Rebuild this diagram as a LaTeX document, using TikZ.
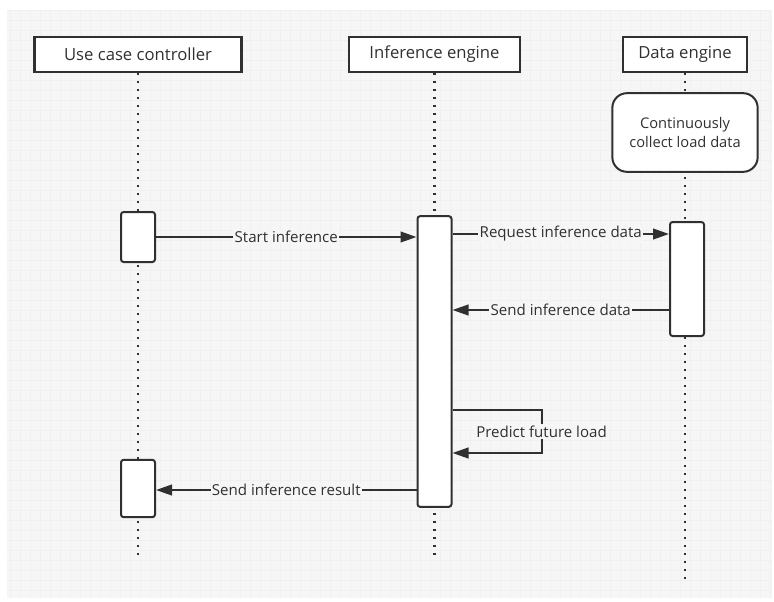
\documentclass[tikz,border=0pt]{standalone}
\usepackage{fontspec}
\setmainfont{Open Sans}
\usepackage{tikz}
\usetikzlibrary{arrows.meta,positioning,calc}
\usepackage{xcolor}
\definecolor{linegray}{HTML}{303030}
\definecolor{paper}{HTML}{F6F6F6}
\definecolor{gridgray}{HTML}{F0F0F0}

\begin{document}
\begin{tikzpicture}[
    x=0.75pt, y=-0.75pt,
    actor/.style={rectangle, draw=linegray, line width=1.8pt, fill=white, minimum height=26pt, font=\fontsize{12.5}{15}\selectfont, text=linegray},
    state/.style={rectangle, rounded corners=11pt, draw=linegray, line width=1.5pt, fill=white, minimum width=109pt, minimum height=59pt, align=center, font=\fontsize{11}{14}\selectfont, text=linegray},
    act/.style={rectangle, rounded corners=2pt, draw=linegray, line width=1.5pt, fill=white, minimum width=25.5pt, inner sep=0pt},
    lifeline/.style={draw=linegray, line width=1.6pt, dash pattern=on 1.6pt off 4.4pt},
    msg/.style={draw=linegray, line width=1.5pt, -{Triangle[length=12pt, width=8pt]}},
    msglabel/.style={fill=paper, inner sep=1pt, font=\fontsize{11.3}{13}\selectfont, text=linegray}
]

% Canvas with grid
\useasboundingbox (0,0) rectangle (774,601);
\fill[paper] (7,10) rectangle (772,598);
\draw[gridgray, line width=0.2pt, step=7.5pt] (7,10) grid (772,598);

% Participants
\node[actor, minimum width=155pt] (ucc) at (138,54.5) {Use case controller};
\node[actor, minimum width=128pt] (ie) at (434.5,54.5) {Inference engine};
\node[actor, minimum width=93pt] (de) at (685,54.5) {Data engine};

% Lifeline ends
\coordinate (uccend) at (138,560);
\coordinate (ieend) at (434.5,560);
\coordinate (deend) at (685,583);

% Lifelines
\draw[lifeline] (ucc.south) -- (uccend);
\draw[lifeline] (ie.south) -- (ieend);
\draw[lifeline] (de.south) -- (deend);

% State on data engine
\node[state] (collect) at (685,132.5) {Continuously\\collect load data};

% Activations
\node[act, minimum height=37.5pt] (uccact1) at (138,237) {};
\node[act, minimum height=43pt] (uccact2) at (138,488.5) {};
\node[act, minimum height=218pt] (ieact) at (434.5,361.5) {};
\node[act, minimum height=85.5pt] (deact) at (687,279) {};

% Message rows
\coordinate (req) at (0,234);
\coordinate (snd) at (0,310);
\coordinate (looptop) at (0,410);
\coordinate (loopbot) at (0,453);
\coordinate (res) at (0,490);

% Messages
\draw[msg] (uccact1.east) -- node[msglabel] {Start inference} (uccact1.east -| ieact.west);
\draw[msg] (ieact.east |- req) -- node[msglabel] {Request inference data} (deact.west |- req);
\draw[msg] (deact.west |- snd) -- node[msglabel] {Send inference data} (ieact.east |- snd);

% Self call
\draw[msg] (ieact.east |- looptop) -- ++(89,0) |- node[msglabel, pos=0.25] {Predict future load} (ieact.east |- loopbot);

\draw[msg] (ieact.west |- res) -- node[msglabel] {Send inference result} (uccact2.east |- res);

\end{tikzpicture}
\end{document}
